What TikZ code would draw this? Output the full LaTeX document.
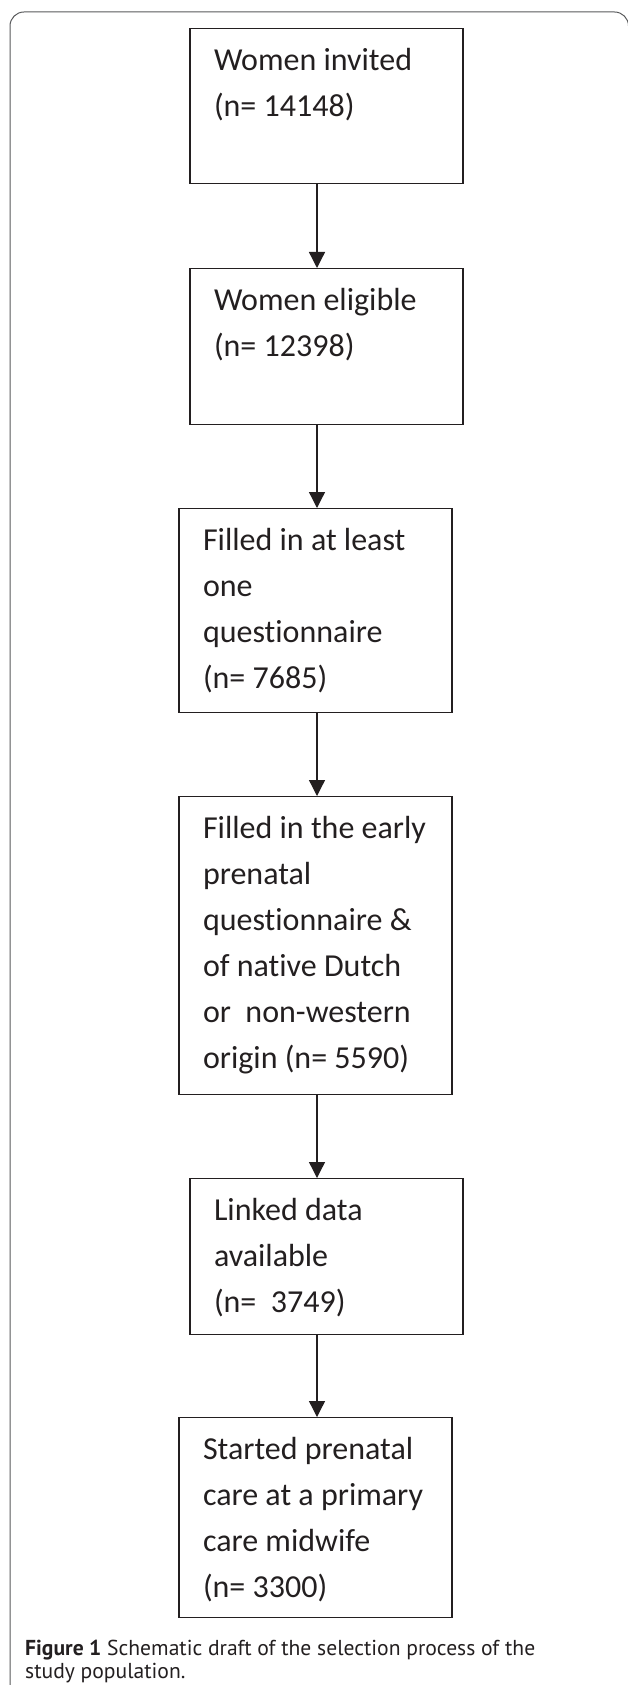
\documentclass[tikz,border=0pt]{standalone}
\usepackage{fontspec}
\setmainfont{Carlito}[Ligatures=NoCommon]
\newfontfamily\captionfont{PT Sans}
\usepackage{xcolor}
\definecolor{inkblack}{HTML}{231F20}
\definecolor{framegray}{HTML}{58595B}
\usetikzlibrary{arrows.meta}

\tikzset{
  stage/.style={draw=inkblack, line width=1.3pt, inner xsep=24pt, inner ysep=0pt,
    anchor=north, text height=42pt, text=inkblack, font=\fontsize{32}{46}\selectfont},
  flow/.style={draw=inkblack, line width=1.3pt, -{Triangle[width=16pt,length=16pt]}}
}

\begin{document}
\begin{tikzpicture}[x=1pt, y=1pt]

  % bounding box
  \useasboundingbox (0,0) rectangle (627,-1685);

  % outer frame
  \draw[framegray, line width=1pt, rounded corners=14pt] (10,-1720) rectangle (628.5,-12);

  % selection steps
  \node [stage, text depth=113pt] (invited) at (326.5,-28)
    {\parbox[t]{225pt}{\raggedright \mbox{Women invited}\\ \mbox{(n= 14148)}}};
  \node [stage, text depth=114pt] (eligible) at (326.5,-268)
    {\parbox[t]{225pt}{\raggedright \mbox{Women eligible}\\ \mbox{(n= 12398)}}};
  \node [stage, text depth=162pt] (filled) at (315.5,-508)
    {\parbox[t]{225pt}{\raggedright \mbox{Filled in at least}\\ \mbox{one}\\ \mbox{questionnaire}\\ \mbox{(n= 7685)}}};
  \node [stage, text depth=256pt] (early) at (315.5,-796)
    {\parbox[t]{225pt}{\raggedright \mbox{Filled in the early}\\ \mbox{prenatal}\\ \mbox{questionnaire \&}\\ \mbox{of native Dutch}\\ \mbox{or\ \ non-western}\\ \mbox{origin (n= 5590)}}};
  \node [stage, text depth=114pt] (linked) at (326.5,-1178)
    {\parbox[t]{225pt}{\raggedright \mbox{Linked data}\\ \mbox{available}\\ \mbox{(n=\ \ 3749)}}};
  \node [stage, text depth=158pt] (midwife) at (315.5,-1417)
    {\parbox[t]{225pt}{\raggedright \mbox{Started prenatal}\\ \mbox{care at a primary}\\ \mbox{care midwife}\\ \mbox{(n= 3300)}}};

  % arrows
  \coordinate (spine) at (317,0);
  \draw[flow] (invited.south -| spine) -- (eligible.north -| spine);
  \draw[flow] (eligible.south -| spine) -- (filled.north -| spine);
  \draw[flow] (filled.south -| spine) -- (early.north -| spine);
  \draw[flow] (early.south -| spine) -- (linked.north -| spine);
  \draw[flow] (linked.south -| spine) -- (midwife.north -| spine);

  % caption
  \node [anchor=base west, inner sep=0pt, text=inkblack] (caption) at (25,-1655)
    {\captionfont\fontsize{21.6}{23}\selectfont\parbox[t]{600pt}{\raggedright
      \textbf{Figure 1} Schematic draft of the selection process of the\\ study population.}};

\end{tikzpicture}
\end{document}
